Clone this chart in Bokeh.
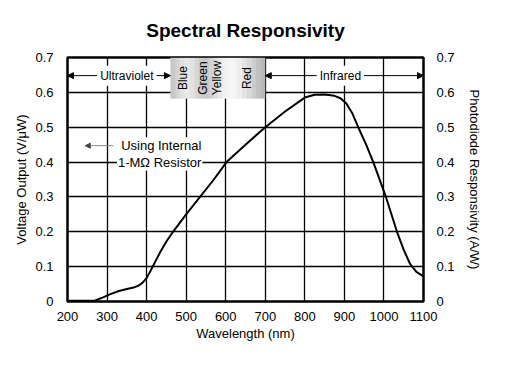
import numpy as np
from bokeh.plotting import figure
from bokeh.models import (Range1d, LinearAxis, FixedTicker, Label, Arrow, NormalHead)
from bokeh.embed import file_html
from bokeh.resources import INLINE

# ---- data ----
wavelength = [200, 250, 270, 290, 310, 330, 350, 370, 380, 390, 400, 410, 420, 435,
              450, 470, 500, 535, 570, 602, 650, 700, 750, 800, 825, 850, 875, 890,
              905, 920, 935, 955, 973, 1005, 1033, 1050, 1066, 1082, 1100]
responsivity = [0.002, 0.002, 0.003, 0.012, 0.022, 0.030, 0.036, 0.041, 0.046, 0.054,
                0.067, 0.088, 0.110, 0.143, 0.172, 0.205, 0.250, 0.300, 0.350, 0.400,
                0.450, 0.500, 0.545, 0.585, 0.593, 0.594, 0.590, 0.583, 0.568, 0.540,
                0.500, 0.450, 0.400, 0.300, 0.200, 0.148, 0.108, 0.085, 0.072]

x_ticks = [200, 300, 400, 500, 600, 700, 800, 900, 1000, 1100]
y_ticks = [0, 0.1, 0.2, 0.3, 0.4, 0.5, 0.6, 0.7]

band_names = ["Blue", "Green", "Yellow", "Red"]
band_pos = [492, 543, 577, 655]
visible_band = [460, 700]          # gray box extent (nm)
box_bottom = 0.582
box_gray = [200, 212, 224, 232, 226, 214, 204, 200, 210, 222, 234, 242, 246, 244,
            238, 228, 216, 204, 192, 184]

uv_range = [200, 460]
ir_range = [700, 1100]
arrow_level = 0.648

FONT = "Liberation Sans"

p = figure(width=509, height=360, output_backend="svg", toolbar_location=None,
           x_range=Range1d(200, 1100), y_range=Range1d(0, 0.7),
           min_border_left=67, min_border_right=86, min_border_top=57,
           min_border_bottom=59, background_fill_color="white",
           border_fill_color="white")
p.extra_y_ranges = {"right": Range1d(0, 0.7)}

p.title.text = "Spectral Responsivity"
p.title.align = "center"
p.title.text_font = FONT
p.title.text_font_size = "19px"
p.title.text_font_style = "bold"
p.title.text_color = "black"
p.title.offset = 0
p.title.standoff = 33

p.outline_line_color = "black"
p.outline_line_width = 2.5

# grid
p.xgrid.ticker = FixedTicker(ticks=x_ticks)
p.ygrid.ticker = FixedTicker(ticks=y_ticks)
for g in (p.xgrid, p.ygrid):
    g.grid_line_color = "black"
    g.grid_line_width = 1.3
    g.grid_line_alpha = 1.0

def style_axis(ax):
    ax.axis_line_color = None
    ax.major_tick_line_color = None
    ax.minor_tick_line_color = None
    ax.major_label_text_font = FONT
    ax.major_label_text_font_size = "13px"
    ax.major_label_text_color = "black"
    ax.axis_label_text_font = FONT
    ax.axis_label_text_font_size = "13px"
    ax.axis_label_text_font_style = "normal"
    ax.axis_label_text_color = "black"

xa = p.xaxis[0]
xa.ticker = FixedTicker(ticks=x_ticks)
xa.axis_label = "Wavelength (nm)"
xa.major_label_standoff = 4
xa.axis_label_standoff = 2
style_axis(xa)

ya = p.yaxis[0]
ya.ticker = FixedTicker(ticks=y_ticks)
ya.axis_label = "Voltage Output (V/\u03bcW)"
ya.major_label_overrides = {0: "0"}
ya.major_label_standoff = 8
ya.axis_label_standoff = 3
style_axis(ya)

ra = LinearAxis(y_range_name="right", ticker=FixedTicker(ticks=y_ticks),
                axis_label="Photodiode Responsivity (A/W)")
ra.major_label_overrides = {0: "0"}
ra.major_label_standoff = 7
ra.axis_label_standoff = 9
style_axis(ra)
p.add_layout(ra, "right")

# gray gradient box for visible band
img = np.zeros((1, len(box_gray)), dtype=np.uint32)
view = img.view(dtype=np.uint8).reshape((1, len(box_gray), 4))
for i, g in enumerate(box_gray):
    view[0, i] = [g, g, g, 255]
p.image_rgba(image=[img], x=visible_band[0], y=box_bottom,
             dw=visible_band[1] - visible_band[0], dh=0.7 - box_bottom)

for name, xp in zip(band_names, band_pos):
    p.add_layout(Label(x=xp, y=(box_bottom + 0.7) / 2, text=name, angle=np.pi / 2,
                       text_align="center", text_baseline="middle",
                       text_font=FONT, text_font_size="12px", text_color="black"))

# response curve
p.line(wavelength, responsivity, line_color="black", line_width=2)

# UV / IR arrows
for rng in (uv_range, ir_range):
    p.add_layout(Arrow(x_start=rng[0], y_start=arrow_level, x_end=rng[1], y_end=arrow_level,
                       line_color="black", line_width=1,
                       start=NormalHead(size=6, fill_color="black", line_color="black"),
                       end=NormalHead(size=6, fill_color="black", line_color="black")))

p.add_layout(Label(x=350, y=arrow_level, text="Ultraviolet",
                   text_align="center", text_baseline="middle", text_font=FONT,
                   text_font_size="12px", text_color="black",
                   background_fill_color="white", padding=3))
p.add_layout(Label(x=890, y=arrow_level, text="Infrared",
                   text_align="center", text_baseline="middle", text_font=FONT,
                   text_font_size="12px", text_color="black",
                   background_fill_color="white", padding=3))

# internal resistor note
p.add_layout(Arrow(x_start=316, y_start=0.447, x_end=245, y_end=0.447,
                   line_color="#888888", line_width=1,
                   end=NormalHead(size=5, fill_color="#444444", line_color="#444444")))
p.add_layout(Label(x=437, y=0.447, text="Using Internal", text_align="center",
                   text_baseline="middle", text_font=FONT, text_font_size="13px",
                   text_color="black", background_fill_color="white", padding=1))
p.add_layout(Label(x=433, y=0.400, text="1-M\u03a9 Resistor", text_align="center",
                   text_baseline="middle", text_font=FONT, text_font_size="13px",
                   text_color="black", background_fill_color="white", padding=1))

open("out.html", "w").write(file_html(p, INLINE))
